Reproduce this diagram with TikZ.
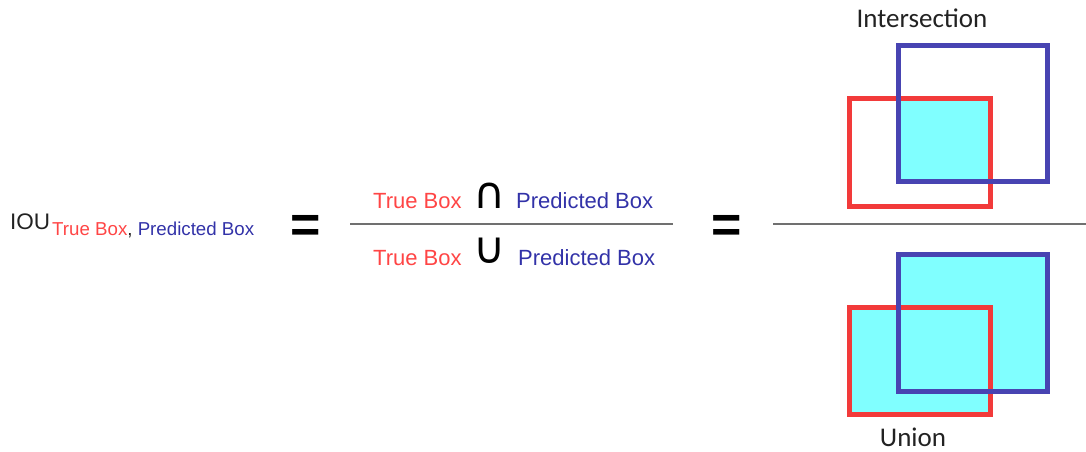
\documentclass[tikz,border=0pt]{standalone}
\usepackage{fontspec}
\setmainfont{Liberation Sans}
\newfontfamily\calibfont{Carlito}
\newfontfamily\symfont{DejaVu Sans}
\definecolor{tred}{HTML}{FF4545}
\definecolor{tblue}{HTML}{3232A8}
\definecolor{bred}{HTML}{F23A3A}
\definecolor{bblue}{HTML}{4844B2}
\definecolor{cyanfill}{HTML}{80FFFF}
\definecolor{rulegray}{HTML}{707070}
\definecolor{ink}{HTML}{222222}
\begin{document}
\begin{tikzpicture}[x=1pt,y=-1pt,
  txt/.style={inner sep=0pt, anchor=base west},
  mid/.style={inner sep=0pt, anchor=base},
  fracrule/.style={draw=rulegray, line width=2.6pt},
  redbox/.style={draw=bred, line width=5pt},
  bluebox/.style={draw=bblue, line width=5pt},
  eqsign/.style={inner sep=0pt, anchor=center, font=\fontsize{52}{56}\selectfont\bfseries, text=black},
  setop/.style={inner sep=0pt, anchor=base, font=\symfont\fontsize{44}{48}\selectfont, text=black},
  caption/.style={inner sep=0pt, anchor=base, font=\calibfont\fontsize{27}{30}\selectfont, text=ink}]
\useasboundingbox (0,0) rectangle (1086,452);
% left term
\node[txt, font=\fontsize{22.5}{26}\selectfont, text=ink] (iou) at (10,229) {IOU};
\node[txt, font=\fontsize{18.7}{22}\selectfont] (sub) at (52,235) {\textcolor{tred}{True Box}\textcolor{ink}{,} \textcolor{tblue}{Predicted Box}};
\node[eqsign] (eq1) at (306,229) {=};
% middle fraction
\node[txt, font=\fontsize{22}{26}\selectfont, text=tred] (tb1) at (373,208) {True Box};
\node[setop] (cap) at (490,208) {∩};
\node[txt, font=\fontsize{22}{26}\selectfont, text=tblue] (pb1) at (516,208) {Predicted Box};
\coordinate (f1l) at (350,224);
\coordinate (f1r) at (673,224);
\draw[fracrule] (f1l) -- (f1r);
\node[txt, font=\fontsize{22}{26}\selectfont, text=tred] (tb2) at (373,265) {True Box};
\node[setop] (cup) at (490,263) {∪};
\node[txt, font=\fontsize{22}{26}\selectfont, text=tblue] (pb2) at (518,265) {Predicted Box};
\node[eqsign] (eq2) at (727,229) {=};
% right fraction
\coordinate (f2l) at (773,224);
\coordinate (f2r) at (1086,224);
\draw[fracrule] (f2l) -- (f2r);
\node[caption] (inter) at (922,28) {Intersection};
\fill[cyanfill] (898,98.5) rectangle (990.5,181);
\draw[redbox] (849.5,98.5) rectangle (990.5,206.5);
\draw[bluebox] (898,45.5) rectangle (1047.5,181.5);
% union
\fill[cyanfill] (849.5,307) rectangle (990.5,414.5);
\fill[cyanfill] (898,254) rectangle (1047.5,391);
\draw[redbox] (849.5,307) rectangle (990.5,414.5);
\draw[bluebox] (898,254) rectangle (1047.5,391);
\node[caption] (union) at (913,446) {Union};
\end{tikzpicture}
\end{document}
